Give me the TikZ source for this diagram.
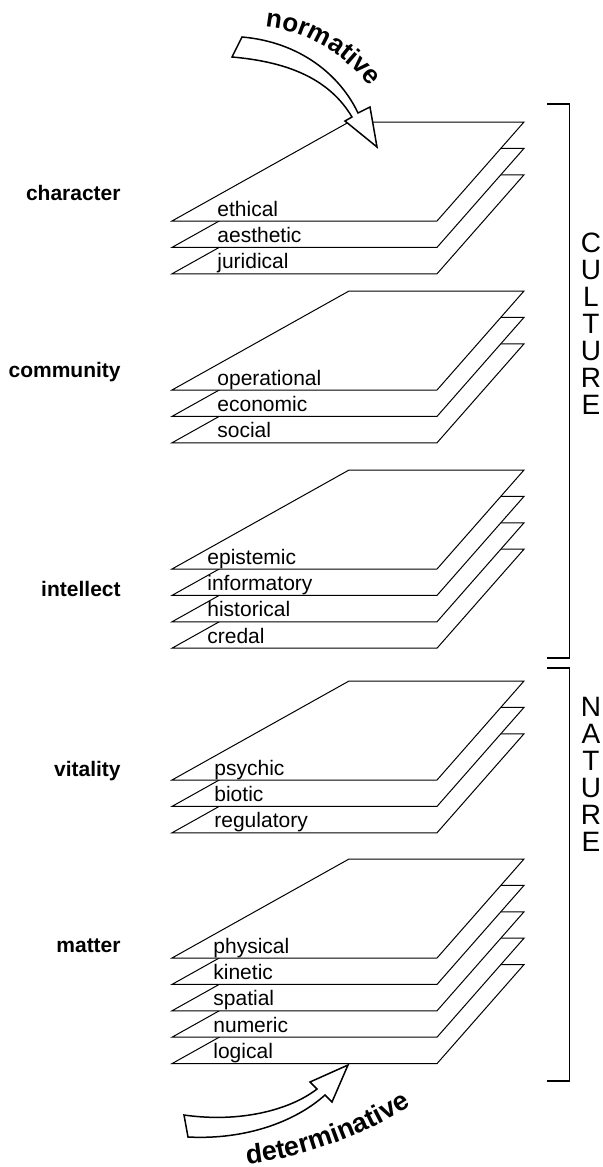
\documentclass[tikz,border=0pt]{standalone}
\usepackage{fontspec}
\setmainfont{Liberation Sans}
\usepackage{tikz}
\usetikzlibrary{decorations.text}

\begin{document}
\begin{tikzpicture}[x=0.5pt,y=-0.5pt,
    plane/.style={draw=black,fill=white,line width=0.5pt},
    layer/.style={font=\fontsize{10.5}{12}\selectfont,anchor=base west,inner sep=0pt},
    group/.style={font=\bfseries\fontsize{10.5}{12}\selectfont,anchor=base east,inner sep=0pt},
    realm/.style={font=\fontsize{14}{13.5}\selectfont,align=center,inner sep=0pt},
    bracket/.style={line width=0.7pt},
    block/.style={draw=black,fill=white,line width=0.75pt}]
                \useasboundingbox (0,0) rectangle (603,1167);
                % stacks of planes, lowest plane first
                \foreach \yb/\lx/\n/\names/\grp/\gy in {
                    221/217/3/{ethical,aesthetic,juridical}/character/200,
                    390/217/3/{operational,economic,social}/community/377,
                    569/207/4/{epistemic,informatory,historical,credal}/intellect/596,
                    780/214/3/{psychic,biotic,regulatory}/vitality/776,
                    958/213/5/{physical,kinetic,spatial,numeric,logical}/matter/952}{
                    \pgfmathtruncatemacro\last{\n-1}
                    \foreach \k in {\last,...,0}
                        \draw[plane] (172,\yb+26.4*\k) -- ++(265,0) -- ++(87,-99) -- ++(-175,0) -- cycle;
                    \foreach \nm [count=\k from 0] in \names
                        \node[layer] (\nm) at (\lx,\yb+26.4*\k-5) {\nm};
                    \node[group] (\grp) at (121,\gy) {\grp};
                }
                % brackets
                \draw[bracket] (547,104) -| (569.5,658) -- (547,658);
                \draw[bracket] (547,668) -| (569.5,1081) -- (547,1081);
                \node[realm] (culture) at (591,324) {C\\U\\L\\T\\U\\R\\E};
                \node[realm] (nature) at (591,774) {N\\A\\T\\U\\R\\E};
                % normative arrow
                \draw[block] (242,37) .. controls (300,42) and (340,75) .. (358,113) -- (370,107) -- (377,147)
                    -- (345,121) -- (352,117) .. controls (330,80) and (290,62) .. (232,57) -- cycle;
                \path[decorate,decoration={text along path,
                    text={|\bfseries\fontsize{13}{15}\selectfont|normative}}]
                    (265,27) .. controls (312,31) and (354,60) .. (382,104);
                % determinative arrow
                \draw[block] (184,1115) .. controls (240,1123) and (290,1110) .. (317,1089) -- (310,1082) -- (348,1065)
                    -- (332,1102) -- (325,1095) .. controls (295,1122) and (245,1140) .. (188,1137) -- cycle;
                \path[decorate,decoration={text along path,
                    text={|\bfseries\fontsize{13.5}{15}\selectfont|determinative}}]
                    (247,1164) .. controls (300,1158) and (372,1136) .. (430,1092);
            \end{tikzpicture}
\end{document}
